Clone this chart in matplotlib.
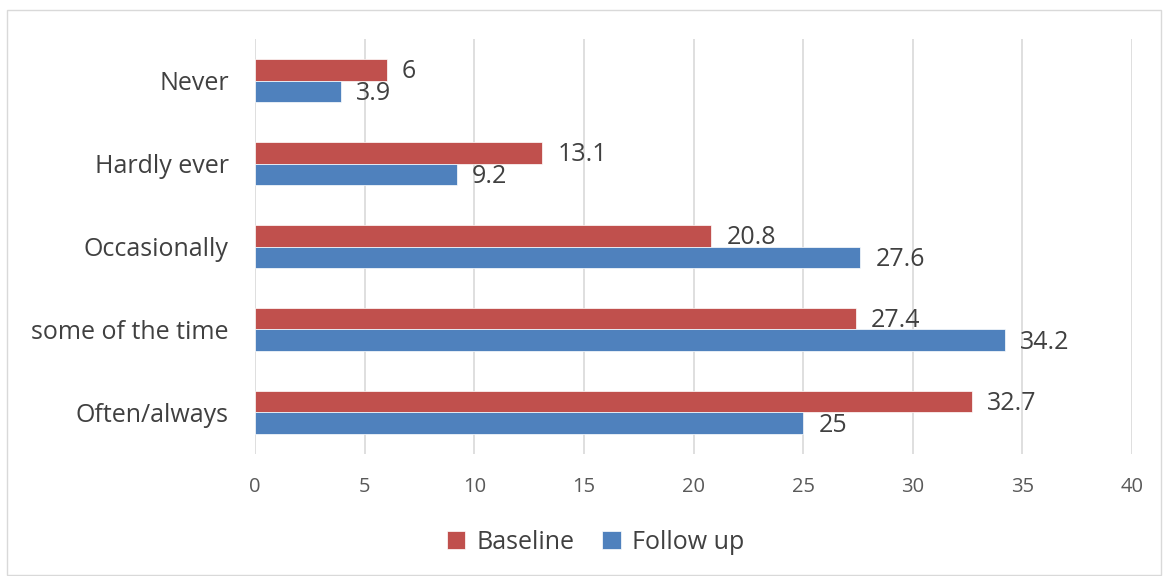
import matplotlib.pyplot as plt
from matplotlib.patches import Rectangle
import numpy as np

plt.rcParams['font.family'] = ['Open Sans', 'DejaVu Sans']

categories = ["Never", "Hardly ever", "Occasionally", "some of the time", "Often/always"]
baseline = [6, 13.1, 20.8, 27.4, 32.7]
follow_up = [3.9, 9.2, 27.6, 34.2, 25]
value_labels_base = ["6", "13.1", "20.8", "27.4", "32.7"]
value_labels_follow = ["3.9", "9.2", "27.6", "34.2", "25"]

red = "#c0504d"
blue = "#4f81bd"

fig = plt.figure(figsize=(11.63, 5.76), dpi=100)
ax = fig.add_axes([0.2193, 0.212, 0.7541, 0.720])

y = np.arange(len(categories))
h = 0.26
ax.barh(y - h / 2, baseline, height=h, color=red, edgecolor="white", linewidth=0.5, label="Baseline")
ax.barh(y + h / 2, follow_up, height=h, color=blue, edgecolor="white", linewidth=0.5, label="Follow up")

for i in range(len(categories)):
    ax.annotate(value_labels_base[i], (baseline[i], y[i] - h / 2), xytext=(11, -1.5),
                textcoords="offset points", va="center", ha="left", fontsize=18, color="#404040")
    ax.annotate(value_labels_follow[i], (follow_up[i], y[i] + h / 2), xytext=(11, -1.5),
                textcoords="offset points", va="center", ha="left", fontsize=18, color="#404040")

ax.set_xlim(0, 40)
ax.set_ylim(len(categories) - 0.5, -0.5)
ax.set_xticks(range(0, 41, 5))
ax.set_yticks(y)
ax.set_yticklabels(categories)
ax.tick_params(axis="y", length=0, pad=19, labelsize=18, labelcolor="#404040")
ax.tick_params(axis="x", length=0, pad=17, labelsize=14.5, labelcolor="#595959")
ax.grid(axis="x", color="#d9d9d9", linewidth=1.2)
ax.set_axisbelow(True)
for s in ax.spines.values():
    s.set_visible(False)

leg = fig.legend(loc="center", bbox_to_anchor=(0.512, 0.059), ncol=2, frameon=False,
                 fontsize=18, handlelength=0.75, handleheight=0.75, columnspacing=1.1,
                 handletextpad=0.45)
for t in leg.get_texts():
    t.set_color("#404040")

fig.patches.append(Rectangle((0.006, 0.002), 0.992, 0.981, transform=fig.transFigure,
                             fill=False, edgecolor="#d9d9d9", linewidth=1))

fig.savefig("out.png", dpi=100)
